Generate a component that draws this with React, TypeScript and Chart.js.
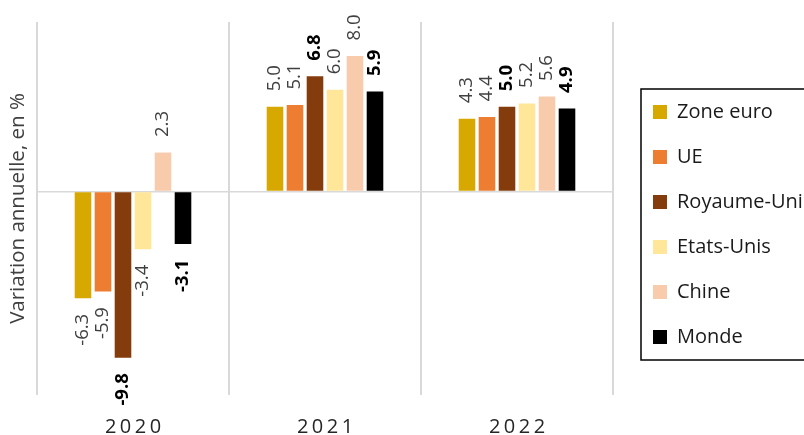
import React, { useEffect, useRef } from 'react';
import { Chart, registerables } from 'chart.js';

Chart.register(...registerables);

const categories = ['2020', '2021', '2022'];
const seriesNames = ['Zone euro', 'UE', 'Royaume-Uni', 'Etats-Unis', 'Chine', 'Monde'];
const zoneEuro = [-6.3, 5.0, 4.3];
const ue = [-5.9, 5.1, 4.4];
const royaumeUni = [-9.8, 6.8, 5.0];
const etatsUnis = [-3.4, 6.0, 5.2];
const chine = [2.3, 8.0, 5.6];
const monde = [-3.1, 5.9, 4.9];
const seriesValues = [zoneEuro, ue, royaumeUni, etatsUnis, chine, monde];
const seriesColors = ['#D6A800', '#ED7D31', '#843C0C', '#FFE699', '#F8CBAD', '#000000'];
const boldSeries = [false, false, true, false, false, true];
const yTitle = 'Variation annuelle, en %';

const FONT = '"Open Sans", "Noto Sans", sans-serif';

const valueLabels = {
  id: 'valueLabels',
  afterDatasetsDraw(chart: any) {
    const ctx = chart.ctx;
    chart.data.datasets.forEach((ds: any, di: number) => {
      const meta = chart.getDatasetMeta(di);
      const bold = boldSeries[di];
      meta.data.forEach((bar: any, i: number) => {
        const v = ds.data[i] as number;
        const text = v.toFixed(1);
        const off = 15.5;
        const y = v >= 0 ? bar.y - off : bar.y + off;
        ctx.save();
        ctx.font = `${bold ? 'bold ' : ''}18.5px ${FONT}`;
        ctx.fillStyle = bold ? '#000000' : '#404040';
        ctx.textBaseline = 'middle';
        ctx.textAlign = v >= 0 ? 'left' : 'right';
        ctx.translate(bar.x, y);
        ctx.rotate(-Math.PI / 2);
        ctx.fillText(text, 0, 0);
        ctx.restore();
      });
    });
  },
};

// Category labels of the x scale, drawn at the scale's own pixel positions with Excel-like letter spacing
const spacedCategoryLabels = {
  id: 'spacedCategoryLabels',
  afterDraw(chart: any) {
    const xs = chart.scales.x;
    const ctx = chart.ctx;
    const spacing = 3.5;
    ctx.save();
    ctx.font = `20px ${FONT}`;
    ctx.fillStyle = '#262626';
    ctx.textAlign = 'center';
    ctx.textBaseline = 'alphabetic';
    try {
      (ctx as any).letterSpacing = `${spacing}px`;
    } catch (e) {}
    const hasLS = (ctx as any).letterSpacing === `${spacing}px`;
    chart.data.labels.forEach((lab: string, i: number) => {
      const x = xs.getPixelForValue(i) + (hasLS ? spacing / 2 : 0);
      ctx.fillText(lab, x, chart.chartArea.bottom + 38);
    });
    ctx.restore();
  },
};

const legendBorder = {
  id: 'legendBorder',
  afterDraw(chart: any) {
    const lg = chart.legend;
    if (!lg || !lg.legendHitBoxes || !lg.legendHitBoxes.length) return;
    const boxes = lg.legendHitBoxes;
    const first = boxes[0];
    const last = boxes[boxes.length - 1];
    const ctx = chart.ctx;
    const left = first.left - 12;
    const top = first.top - 13;
    const bottom = last.top + last.height + 13;
    ctx.save();
    ctx.strokeStyle = '#000000';
    ctx.lineWidth = 1.5;
    ctx.strokeRect(left, top, chart.width + 20 - left, bottom - top);
    ctx.restore();
  },
};

export default function App() {
  const ref = useRef<HTMLCanvasElement>(null);
  useEffect(() => {
    if (!ref.current) return;
    Chart.defaults.font.family = FONT;
    const chart = new Chart(ref.current, {
      type: 'bar',
      data: {
        labels: categories,
        datasets: seriesNames.map((name, i) => ({
          label: name,
          data: seriesValues[i],
          backgroundColor: seriesColors[i],
          borderWidth: 0,
          categoryPercentage: 0.625,
          barPercentage: 0.83,
        })),
      },
      options: {
        animation: false,
        responsive: false,
        layout: { padding: { top: 22, bottom: 8, left: 0, right: 0 } },
        plugins: {
          legend: {
            position: 'right',
            maxWidth: 180,
            labels: {
              boxWidth: 14,
              boxHeight: 14,
              padding: 25,
              color: '#1a1a1a',
              font: { size: 20 },
            },
          },
          tooltip: { enabled: false },
        },
        scales: {
          x: {
            grid: { color: '#d9d9d9', lineWidth: 2, drawTicks: false, offset: true },
            border: { display: false },
            ticks: { color: 'rgba(0,0,0,0)', font: { size: 20 }, padding: 8 },
            afterFit: (s: any) => {
              s.height = 32;
            },
          },
          y: {
            min: -12,
            max: 10,
            ticks: { display: false, stepSize: 2 },
            grid: {
              drawTicks: false,
              lineWidth: 1.5,
              color: (c: any) => (c.tick && c.tick.value === 0 ? '#d9d9d9' : 'rgba(0,0,0,0)'),
            },
            border: { display: false },
            title: {
              display: true,
              text: yTitle,
              color: '#404040',
              font: { size: 20.5 },
              padding: { top: 5.7, bottom: 6.7 },
            },
          },
          y2: {
            position: 'right',
            ticks: { display: false },
            grid: { display: false },
            border: { display: false },
            afterFit: (s: any) => {
              s.width = 15;
            },
          },
        },
      } as any,
      plugins: [valueLabels, spacedCategoryLabels, legendBorder],
    });
    return () => chart.destroy();
  }, []);

  return (
    <div
      style={{
        position: 'absolute',
        left: 0,
        top: 0,
        width: 804,
        height: 435,
        overflow: 'hidden',
        background: '#ffffff',
      }}
    >
      <canvas ref={ref} width={808} height={435} style={{ display: 'block', width: 808, height: 435 }} />
    </div>
  );
}
